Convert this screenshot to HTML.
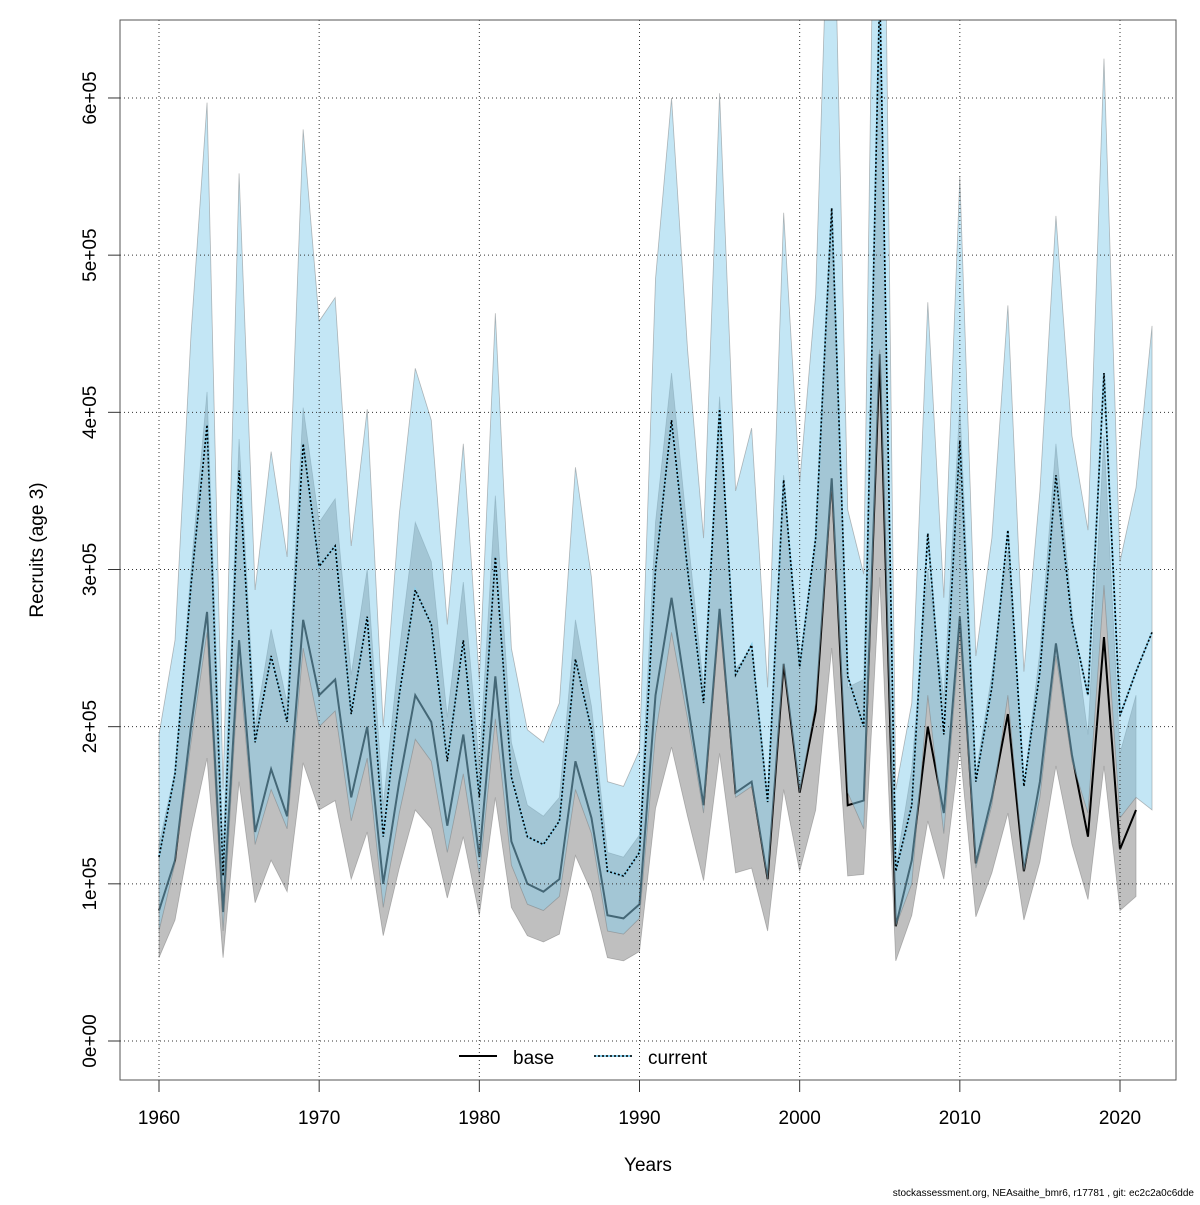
<!DOCTYPE html>
<html><head><meta charset="utf-8"><style>
body{margin:0;background:#fff;font-family:"Liberation Sans",sans-serif}
svg text{font-family:"Liberation Sans",sans-serif}
</style></head><body>
<svg id="chart" width="1200" height="1200" xmlns="http://www.w3.org/2000/svg">
<defs><clipPath id="clip"><rect x="120" y="20" width="1056" height="1060"/></clipPath></defs>
<g id="bands" clip-path="url(#clip)"></g>
<g id="grid"></g>
<g id="lines" clip-path="url(#clip)"></g>
<rect x="120" y="20" width="1056" height="1060" fill="none" stroke="#555" stroke-width="1"/>
<g id="axes"></g>
<text x="648" y="1171" font-size="19" text-anchor="middle">Years</text>
<text transform="translate(43,550) rotate(-90)" font-size="19" text-anchor="middle">Recruits (age 3)</text>
<g>
<line x1="459" y1="1056" x2="497" y2="1056" stroke="#000" stroke-width="2"/>
<text x="513" y="1064" font-size="19">base</text>
<line x1="594" y1="1056" x2="632" y2="1056" stroke="#87ceeb" stroke-width="2"/>
<line x1="594" y1="1056" x2="632" y2="1056" stroke="#000" stroke-width="1.5" stroke-dasharray="2,2"/>
<text x="648" y="1064" font-size="19">current</text>
</g>
<text x="1194" y="1196" font-size="10" text-anchor="end">stockassessment.org, NEAsaithe_bmr6, r17781 , git: ec2c2a0c6dde</text>
</svg>
<script>
const baseYears0=1960, curYears0=1960;
const baseMid=[0.83,1.15,2.0,2.73,0.82,2.55,1.33,1.73,1.43,2.68,2.2,2.3,1.55,2.0,1.0,1.65,2.2,2.03,1.37,1.95,1.17,2.32,1.27,1.0,0.95,1.03,1.78,1.42,0.8,0.78,0.87,2.2,2.82,2.15,1.5,2.75,1.58,1.65,1.03,2.4,1.58,2.1,3.58,1.5,1.53,4.37,0.73,1.15,2.0,1.45,2.7,1.13,1.55,2.08,1.08,1.65,2.53,1.82,1.3,2.57,1.22,1.47];
const baseLow=[0.53,0.77,1.33,1.8,0.53,1.65,0.88,1.15,0.95,1.77,1.47,1.53,1.03,1.33,0.67,1.1,1.47,1.35,0.91,1.3,0.8,1.55,0.85,0.67,0.63,0.68,1.18,0.95,0.53,0.51,0.57,1.48,1.87,1.43,1.02,1.83,1.07,1.1,0.7,1.6,1.08,1.47,2.5,1.05,1.06,2.95,0.51,0.8,1.4,1.03,1.87,0.79,1.07,1.45,0.77,1.14,1.75,1.25,0.9,1.75,0.83,0.92];
const baseHigh=[1.25,1.72,3.0,4.13,1.22,3.83,2.0,2.62,2.15,4.03,3.3,3.45,2.33,3.0,1.5,2.48,3.3,3.05,2.06,2.92,1.75,3.47,1.9,1.5,1.43,1.55,2.68,2.13,1.2,1.17,1.31,3.3,4.25,3.23,2.25,4.1,2.37,2.48,1.55,3.6,2.37,3.15,5.3,2.25,2.3,6.5,1.1,1.73,3.0,2.18,4.05,1.7,2.33,3.12,1.62,2.48,3.8,2.73,1.95,3.85,1.83,2.2];
const curMid=[1.17,1.7,2.9,3.92,1.05,3.63,1.9,2.45,2.03,3.8,3.02,3.15,2.08,2.7,1.3,2.2,2.87,2.65,1.78,2.55,1.55,3.08,1.68,1.3,1.25,1.4,2.43,1.98,1.08,1.05,1.2,3.0,3.95,3.0,2.15,4.02,2.33,2.52,1.52,3.57,2.38,3.2,5.3,2.32,2.0,6.7,1.08,1.5,3.23,1.95,3.82,1.65,2.25,3.25,1.62,2.35,3.6,2.67,2.2,4.25,2.07,2.35,2.6];
const curLow=[0.7,1.13,1.9,2.6,0.7,2.4,1.25,1.6,1.35,2.5,2.0,2.1,1.4,1.8,0.85,1.45,1.92,1.78,1.2,1.7,1.05,2.05,1.12,0.87,0.83,0.92,1.6,1.32,0.7,0.68,0.78,1.95,2.6,2.05,1.45,2.68,1.55,1.62,1.02,2.4,1.58,2.15,3.5,1.58,1.35,4.4,0.73,1.0,2.2,1.32,2.6,1.1,1.5,2.2,1.08,1.55,2.45,1.78,1.45,2.9,1.42,1.55,1.47];
const curHigh=[1.95,2.55,4.5,5.97,1.6,5.52,2.87,3.75,3.08,5.8,4.58,4.73,3.15,4.02,2.0,3.35,4.28,3.95,2.65,3.8,2.3,4.63,2.5,1.98,1.9,2.15,3.65,2.95,1.65,1.62,1.85,4.85,6.0,4.4,3.2,6.03,3.5,3.9,2.25,5.27,3.55,4.75,8.0,3.38,2.97,10,1.6,2.15,4.7,2.82,5.5,2.45,3.2,4.68,2.35,3.5,5.25,3.85,3.25,6.25,3.05,3.52,4.55];
const xTicks=[1960,1970,1980,1990,2000,2010,2020];
const yTicks=[0,1,2,3,4,5,6];
const yTickLabels=["0e+00","1e+05","2e+05","3e+05","4e+05","5e+05","6e+05"];

const NS="http://www.w3.org/2000/svg";
function X(yr){return 159+(yr-1960)*(1120-159)/60;}
function Y(v){return 1041-v*157.17;}
function mk(tag,attrs,parent){const e=document.createElementNS(NS,tag);for(const k in attrs)e.setAttribute(k,attrs[k]);parent.appendChild(e);return e;}
const grid=document.getElementById('grid'),bands=document.getElementById('bands'),lines=document.getElementById('lines'),axes=document.getElementById('axes');
xTicks.forEach(t=>{
 const g=mk('line',{x1:X(t),x2:X(t),y1:20,y2:1080,stroke:'#333','stroke-width':1,'stroke-dasharray':'1,3'},grid);
 
 
 const tk=mk('line',{x1:X(t),x2:X(t),y1:1080,y2:1092,stroke:'#333'},axes);
 
 
 const tx=mk('text',{x:X(t),y:1124,'font-size':19,'text-anchor':'middle'},axes);tx.textContent=t;
 
 
});
yTicks.forEach((t,i)=>{
 const g=mk('line',{x1:120,x2:1176,y1:Y(t),y2:Y(t),stroke:'#333','stroke-width':1,'stroke-dasharray':'1,3'},grid);
 
 
 const tk=mk('line',{x1:108,x2:120,y1:Y(t),y2:Y(t),stroke:'#333'},axes);
 
 
 const tx=mk('text',{transform:`translate(96,${Y(t)}) rotate(-90)`,'font-size':19,'text-anchor':'middle'},axes);tx.textContent=yTickLabels[i];
 
 
});
function band(y0,lo,hi,fill,name){
 let d='';hi.forEach((v,i)=>{d+=(i?'L':'M')+X(y0+i)+','+Y(v);});
 for(let i=lo.length-1;i>=0;i--)d+='L'+X(y0+i)+','+Y(lo[i]);
 const p=mk('path',{d:d+'Z',fill:fill,stroke:'rgba(120,120,120,0.5)','stroke-width':0.8},bands);
 
 
}
function line(y0,vals,attrs,name,parent){
 const pts=vals.map((v,i)=>X(y0+i)+','+Y(v)).join(' ');
 const p=mk('polyline',Object.assign({points:pts,fill:'none'},attrs),parent);
 
 
}
band(baseYears0,baseLow,baseHigh,'rgba(0,0,0,0.25)','base-ci-band');
line(baseYears0,baseMid,{stroke:'#000','stroke-width':2},'base-line',bands);
band(curYears0,curLow,curHigh,'rgba(135,206,235,0.5)','current-ci-band');
line(curYears0,curMid,{stroke:'#87ceeb','stroke-width':2},'current-line-bg',lines);
line(curYears0,curMid,{stroke:'#000','stroke-width':1.6,'stroke-dasharray':'2,2'},'current-line',lines);
</script>
</body></html>
